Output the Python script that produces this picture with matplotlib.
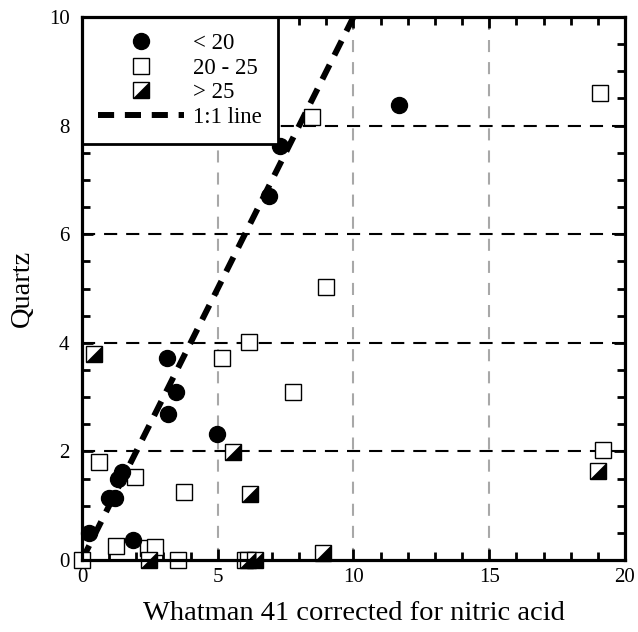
import numpy as np
import matplotlib
matplotlib.use("Agg")
import matplotlib.pyplot as plt
from matplotlib.path import Path
from matplotlib.legend_handler import HandlerTuple
from matplotlib.ticker import MultipleLocator

plt.rcParams['font.family'] = ['Liberation Serif', 'DejaVu Serif']

# < 20
low_x = [0.26, 1.0, 1.2, 1.33, 1.47, 1.88, 3.13, 3.46, 3.17, 4.97, 6.89, 7.29, 11.68]
low_y = [0.50, 1.14, 1.14, 1.50, 1.62, 0.37, 3.72, 3.10, 2.69, 2.32, 6.70, 7.62, 8.38]

# 20 - 25
mid_x = [0.0, 0.63, 1.95, 3.76, 1.25, 2.43, 2.69, 3.54, 5.16, 6.15, 7.76, 8.98, 6.0, 8.47, 19.08, 19.19]
mid_y = [0.0, 1.80, 1.53, 1.25, 0.26, 0.22, 0.24, 0.0, 3.72, 4.02, 3.09, 5.03, 0.0, 8.16, 8.60, 2.03]

# > 25
high_x = [0.44, 5.56, 6.19, 2.45, 6.1, 6.37, 8.88, 19.0]
high_y = [3.79, 1.99, 1.22, 0.0, 0.0, 0.0, 0.13, 1.64]

one_to_one = [0, 10]

fig = plt.figure(figsize=(6.38, 6.32), dpi=100)
ax = fig.add_axes([0.1285, 0.1139, 0.8511, 0.8592])

for y in [2, 4, 6, 8]:
    ax.axhline(y, color="black", lw=1.5, dashes=(6.3, 4.3), zorder=1)
for x in [5, 10, 15]:
    ax.axvline(x, color="#a8a8a8", lw=1.5, dashes=(5.8, 4.8), zorder=1)

# lower-right half of a square
tri = Path([(1, -1), (1, 1), (-1, -1), (1, -1)],
           [Path.MOVETO, Path.LINETO, Path.LINETO, Path.CLOSEPOLY])

ms = 11
h_mid, = ax.plot(mid_x, mid_y, ls="none", marker="s", ms=ms, mfc="white",
                 mec="black", mew=1, zorder=3, clip_on=False)
h_sq, = ax.plot(high_x, high_y, ls="none", marker="s", ms=ms, mfc="white",
                mec="black", mew=1, zorder=3, clip_on=False)
h_tri, = ax.plot(high_x, high_y, ls="none", marker=tri, ms=ms, mfc="black",
                 mec="black", mew=0.5, zorder=3, clip_on=False)
h_low, = ax.plot(low_x, low_y, ls="none", marker="o", ms=11.5, mfc="black",
                 mec="black", zorder=4, clip_on=False)
h_line, = ax.plot(one_to_one, one_to_one, color="black", lw=4.3,
                  dashes=(2.7, 1.8), zorder=2)

leg = ax.legend([h_low, h_mid, (h_sq, h_tri), h_line],
                ["< 20", "20 - 25", "> 25", "1:1 line"],
                handler_map={tuple: HandlerTuple(ndivide=1)},
                loc="upper left", bbox_to_anchor=(0, 1), borderaxespad=0,
                fontsize=16.5, handlelength=3.75, labelspacing=0.15,
                handletextpad=0.4, borderpad=0.7, fancybox=False,
                framealpha=1, edgecolor="black", numpoints=1)
leg.get_frame().set_linewidth(2)
leg.set_zorder(5)

ax.set_xlim(0, 20)
ax.set_ylim(0, 10)
ax.xaxis.set_major_locator(MultipleLocator(5))
ax.xaxis.set_minor_locator(MultipleLocator(1))
ax.yaxis.set_major_locator(MultipleLocator(2))
ax.yaxis.set_minor_locator(MultipleLocator(0.5))
ax.tick_params(which="both", direction="in", top=True, right=True,
               width=2, labelsize=15)
ax.tick_params(which="major", length=8)
ax.tick_params(which="minor", length=5.5)
ax.tick_params(axis="x", which="major", pad=6)
ax.tick_params(axis="y", which="major", pad=9)
for s in ax.spines.values():
    s.set_linewidth(2.3)
    s.set_zorder(6)

ax.set_xlabel("Whatman 41 corrected for nitric acid", fontsize=20.5, labelpad=10)
ax.set_ylabel("Quartz", fontsize=20.5, labelpad=10)

fig.savefig("out.png", dpi=100)
